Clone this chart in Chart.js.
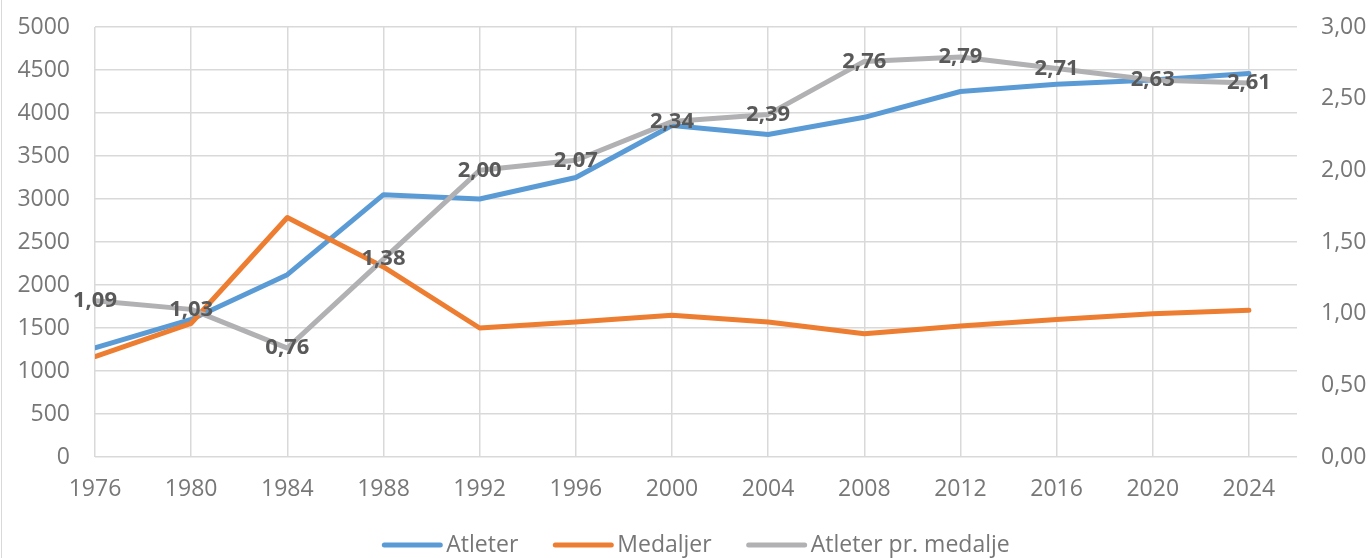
<!DOCTYPE html>
<html>
<head>
<meta charset="utf-8">
<script src="https://cdn.jsdelivr.net/npm/chart.js@4"></script>
<style>
    html, body { margin: 0; padding: 0; background: #ffffff; }
    #wrap { position: relative; width: 1371px; height: 558px; }
    #edge { position: absolute; left: 1px; top: 0; width: 1px; height: 558px; background: #d9d9d9; }
</style>
</head>
<body>
<div id="wrap">
    <canvas id="olChart" width="1371" height="558"></canvas>
    <div id="edge"></div>
</div>
<script>
// Data
const years = [1976, 1980, 1984, 1988, 1992, 1996, 2000, 2004, 2008, 2012, 2016, 2020, 2024];
const atleter = [1270, 1600, 2120, 3050, 3000, 3250, 3855, 3750, 3950, 4250, 4335, 4385, 4460];
const medaljer = [1168, 1555, 2785, 2210, 1500, 1570, 1648, 1570, 1432, 1524, 1600, 1667, 1705];
const atleterPrMedalje = [1.09, 1.03, 0.76, 1.38, 2.00, 2.07, 2.34, 2.39, 2.76, 2.79, 2.71, 2.63, 2.61];

const FONT = '"Open Sans", "DejaVu Sans", sans-serif';
const TICK_COLOR = '#777777';
const GRID_COLOR = '#d9d9d9';

const fmtComma = v => Number(v).toFixed(2).replace('.', ',');

function toXY(values) {
    return values.map((v, i) => ({ x: years[i], y: v }));
}

// fixed axis widths, and no extra top/bottom room from the tick padding
function fitSide(width) {
    return scale => {
        scale.width = width;
        scale.paddingTop = 0;
        scale.paddingBottom = 0;
    };
}

/**
 * Draws the value labels of the ratio series centred on each point
 */
const ratioLabels = {
    id: 'ratioLabels',
    afterDatasetsDraw(chart) {
        const meta = chart.getDatasetMeta(2);
        const ctx = chart.ctx;
        ctx.save();
        ctx.font = 'bold 22px ' + FONT;
        ctx.fillStyle = '#595959';
        ctx.textAlign = 'center';
        ctx.textBaseline = 'middle';
        meta.data.forEach((pt, i) => {
            ctx.fillText(fmtComma(atleterPrMedalje[i]), pt.x, pt.y);
        });
        ctx.restore();
    }
};

/**
 * Excel-like legend: long line sample, text close to it, centred under the plot
 */
const lineLegend = {
    id: 'lineLegend',
    afterDraw(chart) {
        const ctx = chart.ctx;
        const area = chart.chartArea;
        const sample = 60, gap = 4, itemGap = 35, y = 545;
        ctx.save();
        ctx.font = '23px ' + FONT;
        const items = chart.data.datasets.map(ds => ({
            label: ds.label,
            color: ds.borderColor,
            w: ctx.measureText(ds.label).width,
        }));
        let total = 0;
        items.forEach((it, i) => {
            total += sample + gap + it.w + (i < items.length - 1 ? itemGap : 0);
        });
        let x = (area.left + area.right) / 2 - total / 2;
        items.forEach(it => {
            ctx.strokeStyle = it.color;
            ctx.lineWidth = 5;
            ctx.lineCap = 'round';
            ctx.beginPath();
            ctx.moveTo(x + 2, y);
            ctx.lineTo(x + sample - 2, y);
            ctx.stroke();
            ctx.fillStyle = TICK_COLOR;
            ctx.textAlign = 'left';
            ctx.textBaseline = 'middle';
            ctx.fillText(it.label, x + sample + gap, y);
            x += sample + gap + it.w + itemGap;
        });
        ctx.restore();
    }
};

new Chart(document.getElementById('olChart'), {
    type: 'line',
    data: {
        datasets: [
            {
                label: 'Atleter',
                data: toXY(atleter),
                yAxisID: 'y',
                borderColor: '#5b9bd5',
                backgroundColor: '#5b9bd5',
                borderWidth: 5,
                borderCapStyle: 'round',
                borderJoinStyle: 'round',
                pointRadius: 0,
                order: 3,
            },
            {
                label: 'Medaljer',
                data: toXY(medaljer),
                yAxisID: 'y',
                borderColor: '#ed7d31',
                backgroundColor: '#ed7d31',
                borderWidth: 5,
                borderCapStyle: 'round',
                borderJoinStyle: 'round',
                pointRadius: 0,
                order: 2,
            },
            {
                label: 'Atleter pr. medalje',
                data: toXY(atleterPrMedalje),
                yAxisID: 'y1',
                borderColor: '#b1b1b3',
                backgroundColor: '#b1b1b3',
                borderWidth: 5,
                borderCapStyle: 'round',
                borderJoinStyle: 'round',
                pointRadius: 0,
                order: 1,
            },
        ],
    },
    options: {
        responsive: false,
        animation: false,
        layout: {
            padding: { top: 27, left: 0, right: 0, bottom: 41 },
        },
        plugins: {
            tooltip: { enabled: false },
            legend: { display: false },
        },
        scales: {
            x: {
                type: 'linear',
                min: 1976,
                max: 2026,
                afterBuildTicks: scale => {
                    scale.ticks = years.map(v => ({ value: v }));
                },
                afterFit: scale => { scale.height = 60; },
                grid: {
                    color: GRID_COLOR,
                    lineWidth: 1.5,
                    drawTicks: false,
                },
                border: { display: false },
                ticks: {
                    padding: 19,
                    maxRotation: 0,
                    autoSkip: false,
                    color: TICK_COLOR,
                    font: { family: FONT, size: 23 },
                    callback: v => String(v),
                },
            },
            y: {
                position: 'left',
                min: 0,
                max: 5000,
                afterFit: fitSide(95),
                grid: {
                    color: GRID_COLOR,
                    lineWidth: 1.5,
                    drawTicks: false,
                },
                border: { display: false },
                ticks: {
                    stepSize: 500,
                    padding: 25,
                    color: TICK_COLOR,
                    font: { family: FONT, size: 23 },
                    callback: v => String(v),
                },
            },
            y1: {
                position: 'right',
                min: 0,
                max: 3,
                afterFit: fitSide(74),
                grid: { drawOnChartArea: false, drawTicks: false },
                border: { display: false },
                ticks: {
                    stepSize: 0.5,
                    padding: 24,
                    color: TICK_COLOR,
                    font: { family: FONT, size: 23 },
                    callback: v => fmtComma(v),
                },
            },
        },
    },
    plugins: [ratioLabels, lineLegend],
});
</script>
</body>
</html>
